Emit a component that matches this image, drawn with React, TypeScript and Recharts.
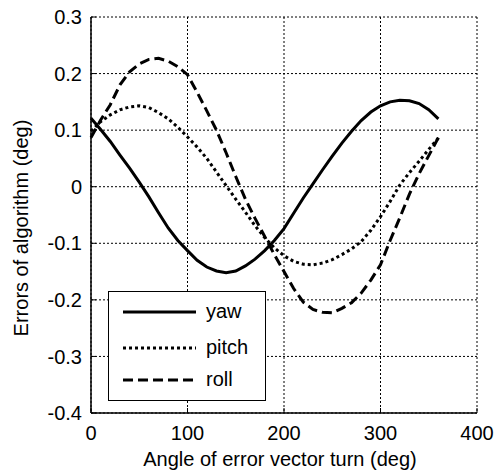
import React from 'react';
import { LineChart, Line, XAxis, YAxis, CartesianGrid, Legend, Label } from 'recharts';

const angles = [0, 10, 20, 30, 40, 50, 60, 70, 80, 90, 100, 110, 120, 130, 140, 150, 160, 170, 180, 190, 200, 210, 220, 230, 240, 250, 260, 270, 280, 290, 300, 310, 320, 330, 340, 350, 360];
const yaw = [0.121, 0.101, 0.08, 0.056, 0.033, 0.008, -0.018, -0.046, -0.073, -0.095, -0.113, -0.13, -0.142, -0.149, -0.152, -0.149, -0.14, -0.128, -0.113, -0.095, -0.074, -0.047, -0.02, 0.005, 0.03, 0.054, 0.077, 0.098, 0.117, 0.132, 0.143, 0.15, 0.153, 0.152, 0.147, 0.136, 0.12];
const pitch = [0.098, 0.115, 0.127, 0.136, 0.141, 0.143, 0.14, 0.131, 0.12, 0.105, 0.088, 0.07, 0.05, 0.026, 0.002, -0.022, -0.045, -0.069, -0.09, -0.108, -0.122, -0.132, -0.137, -0.138, -0.135, -0.129, -0.12, -0.11, -0.097, -0.077, -0.053, -0.026, 0.003, 0.025, 0.045, 0.066, 0.086];
const roll = [0.087, 0.118, 0.145, 0.18, 0.203, 0.217, 0.225, 0.227, 0.222, 0.212, 0.198, 0.167, 0.134, 0.1, 0.06, 0.018, -0.022, -0.056, -0.088, -0.12, -0.15, -0.18, -0.204, -0.217, -0.222, -0.223, -0.215, -0.205, -0.188, -0.165, -0.138, -0.095, -0.055, -0.013, 0.023, 0.055, 0.087];

const xTicks = [0, 100, 200, 300, 400];
const yTicks = [-0.4, -0.3, -0.2, -0.1, 0, 0.1, 0.2, 0.3];
const seriesNames = ['yaw', 'pitch', 'roll'];
const xTitle = 'Angle of error vector turn (deg)';
const yTitle = 'Errors of algorithm (deg)';

const data = angles.map((a, i) => ({ angle: a, yaw: yaw[i], pitch: pitch[i], roll: roll[i] }));

const FONT = '"Liberation Sans", Arial, Helvetica, sans-serif';
const dashes: Record<string, string | undefined> = { yaw: undefined, pitch: '3 3', roll: '10 5' };

const tickStyle = { fontSize: 20, fill: '#000', fontFamily: FONT };

const EmptyTick = () => <g />;

const renderLegend = () => {
  const rows = [21, 57, 89];
  return (
    <svg width={158} height={110} style={{ display: 'block' }}>
      <rect x={0.5} y={0.5} width={157} height={109} fill="#fff" stroke="#000" strokeWidth={1} />
      {seriesNames.map((n, i) => (
        <g key={n}>
          <line x1={15} x2={88} y1={rows[i]} y2={rows[i]} stroke="#000" strokeWidth={3} strokeDasharray={dashes[n]} />
          <text x={98} y={rows[i] + 6} fontSize={20} fontFamily={FONT} fill="#000">{n}</text>
        </g>
      ))}
    </svg>
  );
};

export default function App() {
  return (
    <div style={{ position: 'absolute', left: 0, top: 0 }}>
      <LineChart width={496} height={472} data={data} margin={{ top: 17, right: 19, bottom: 0, left: 0 }}>
        <CartesianGrid stroke="#000" strokeDasharray="2 2" strokeWidth={1} />
        <XAxis
          dataKey="angle"
          type="number"
          domain={[0, 400]}
          ticks={xTicks}
          height={59}
          tickSize={-5}
          tickMargin={18}
          tick={tickStyle}
          axisLine={{ stroke: '#000', strokeWidth: 1.5 }}
          tickLine={{ stroke: '#000' }}
        >
          <Label
            content={() => (
              <text x={280} y={466} textAnchor="middle" fontSize={20} fontFamily={FONT} fill="#000">{xTitle}</text>
            )}
          />
        </XAxis>
        <XAxis
          xAxisId="top"
          orientation="top"
          type="number"
          domain={[0, 400]}
          ticks={xTicks}
          height={0}
          tickSize={-5}
          tick={<EmptyTick />}
          axisLine={{ stroke: '#000', strokeWidth: 1.5 }}
          tickLine={{ stroke: '#000' }}
        />
        <YAxis
          type="number"
          domain={[-0.4, 0.3]}
          ticks={yTicks}
          width={91}
          tickSize={-5}
          tickMargin={14}
          tick={tickStyle}
          axisLine={{ stroke: '#000', strokeWidth: 1.5 }}
          tickLine={{ stroke: '#000' }}
          allowDataOverflow
        >
          <Label
            content={() => (
              <text x={0} y={0} transform="translate(28,228) rotate(-90)" textAnchor="middle" fontSize={20} fontFamily={FONT} fill="#000">{yTitle}</text>
            )}
          />
        </YAxis>
        <YAxis
          yAxisId="right"
          orientation="right"
          type="number"
          domain={[-0.4, 0.3]}
          ticks={yTicks}
          width={0}
          tickSize={-5}
          tick={<EmptyTick />}
          axisLine={{ stroke: '#000', strokeWidth: 1.5 }}
          tickLine={{ stroke: '#000' }}
        />
        <Legend
          layout="horizontal"
          verticalAlign="middle"
          align="center"
          content={renderLegend}
          wrapperStyle={{ position: 'absolute', left: 108, top: 291, width: 158, height: 110 }}
        />
        {seriesNames.map((n) => (
          <Line
            key={n}
            dataKey={n}
            type="linear"
            stroke="#000"
            strokeWidth={3}
            strokeDasharray={dashes[n]}
            dot={false}
            activeDot={false}
            isAnimationActive={false}
          />
        ))}
      </LineChart>
    </div>
  );
}
